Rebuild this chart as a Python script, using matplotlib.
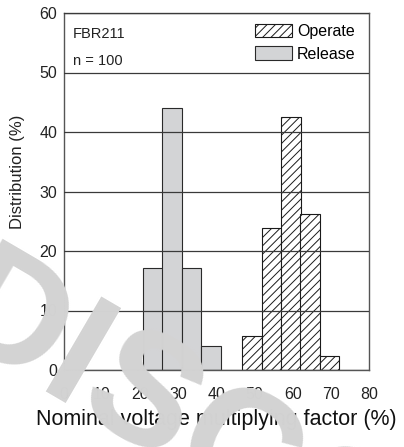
import matplotlib
matplotlib.use("Agg")
import matplotlib.pyplot as plt

plt.rcParams['font.family'] = ['Liberation Sans', 'DejaVu Sans']
plt.rcParams['hatch.linewidth'] = 0.7

# Data (bin centres in %, distribution in %)
release_x = [23.3, 28.3, 33.4, 38.5]
release_y = [17.2, 44.0, 17.2, 4.0]
operate_x = [49.3, 54.4, 59.5, 64.5, 69.6]
operate_y = [5.7, 23.8, 42.5, 26.2, 2.3]
bin_width = 5.1
x_ticks = [0, 10, 20, 30, 40, 50, 60, 70, 80]
y_ticks = [0, 10, 20, 30, 40, 50, 60]

fig = plt.figure(figsize=(4.04, 4.47), dpi=100)
ax = fig.add_axes([64/404, 1-370/447, 305/404, 357/447])

ax.bar(release_x, release_y, width=bin_width, color='#d3d4d6',
       edgecolor='#2a2a2a', linewidth=0.8, label='Release')
ax.bar(operate_x, operate_y, width=bin_width, color='white',
       edgecolor='#1a1a1a', linewidth=0.8, hatch='////', label='Operate')

ax.set_xlim(0, 80)
ax.set_ylim(0, 60)
ax.set_xticks(x_ticks)
ax.set_yticks(y_ticks)
ax.set_axisbelow(False)
ax.yaxis.grid(True, color='#3a3a3a', linewidth=0.9)
ax.tick_params(axis='both', length=0, labelsize=11.5, colors='#222222')
ax.tick_params(axis='x', pad=12)
ax.tick_params(axis='y', pad=5)
for s in ax.spines.values():
    s.set_color('#555555')
    s.set_linewidth(1.0)

ax.set_xlabel('Nominal voltage multiplying factor (%)', fontsize=15.5,
              color='#111111', va='baseline')
ax.xaxis.set_label_coords(0.5, (370-425)/357)
ax.set_ylabel('Distribution (%)', fontsize=12, color='#222222', va='center')
ax.yaxis.set_label_coords((18-64)/305, (370-172)/357)

ax.text(0.030, 0.930, 'FBR211', transform=ax.transAxes, fontsize=10.5,
        va='baseline', ha='left', color='#222222')
ax.text(0.030, 0.854, 'n = 100', transform=ax.transAxes, fontsize=10.5,
        va='baseline', ha='left', color='#222222')

h, l = ax.get_legend_handles_labels()
leg = ax.legend(h[::-1], l[::-1], loc='upper right', bbox_to_anchor=(0.956, 0.970),
                frameon=False, fontsize=11.5, handlelength=2.31, handleheight=0.94,
                handletextpad=0.3, labelspacing=0.45, borderpad=0, borderaxespad=0)

# watermark overlay
fig.text(-65/404, 1-333/447, 'DISCONTINUED', fontsize=115, fontweight='bold',
         color='#d3d3d3', rotation=-30.3, rotation_mode='anchor',
         ha='left', va='baseline', zorder=10)

fig.savefig('out.png', dpi=100)
